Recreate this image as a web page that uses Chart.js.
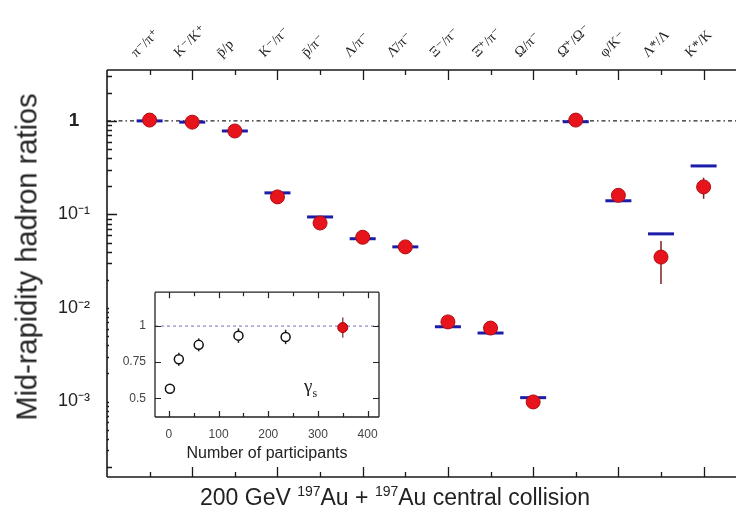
<!DOCTYPE html>
<html>
<head>
<meta charset="utf-8">
<script src="https://cdn.jsdelivr.net/npm/chart.js@4.4.0/dist/chart.umd.min.js"></script>
<style>
html, body { margin: 0; padding: 0; background: #fff; }
#wrap { position: relative; width: 736px; height: 527px; overflow: hidden; }
#main { position: absolute; left: 0; top: 0; }
#inset { position: absolute; left: 109px; top: 276px; background: #fff; }
#ytitle { position: absolute; left: 27px; top: 257px; transform: translate(-50%, -50%) rotate(-90deg);
  font: 29px "Liberation Sans", Arial, sans-serif; color: #222; white-space: nowrap; }
#caption { position: absolute; left: 145px; width: 500px; top: 484px; text-align: center;
  font: 23px "Liberation Sans", Arial, sans-serif; color: #222; white-space: nowrap; }
#caption sup { font-size: 14px; vertical-align: 9px; line-height: 0; }
#gamma { position: absolute; left: 304px; top: 375px; font: 19px "Liberation Serif", serif; color: #222; }
#gamma sub { font-size: 12px; }
</style>
</head>
<body>
<div id="wrap">
  <canvas id="main" width="736" height="527"></canvas>
  <canvas id="inset" width="276" height="190"></canvas>
  <div id="ytitle">Mid-rapidity hadron ratios</div>
  <div id="gamma">γ<sub>s</sub></div>
  <div id="caption">200 GeV <sup>197</sup>Au + <sup>197</sup>Au central collision</div>
</div>
<script>
// main panel
var categories = ['π⁻/π⁺', 'K⁻/K⁺', 'p̄/p', 'K⁻/π⁻', 'p̄/π⁻', 'Λ/π⁻', 'Λ̄/π⁻',
                  'Ξ⁻/π⁻', 'Ξ̄⁺/π⁻', 'Ω/π⁻', 'Ω̄⁺/Ω⁻', 'φ/K⁻', 'Λ*/Λ', 'K*/K'];
var measured    = [1.02, 0.97, 0.78, 0.154, 0.081, 0.057, 0.045, 0.0071, 0.0061, 0.00099, 1.02, 0.16, 0.035, 0.197];
var measuredErr = [0.04, 0.04, 0.05, 0.012, 0.007, 0.005, 0.004, 0.0006, 0.0006, 0.0001, 0.08, 0.02, 0.017, 0.05];
var model       = [1.0, 0.97, 0.78, 0.17, 0.094, 0.055, 0.045, 0.0063, 0.0054, 0.0011, 0.98, 0.14, 0.062, 0.33];
var yTickValues = [1, 0.1, 0.01, 0.001];
var yTickLabels = ['1', '10⁻¹', '10⁻²', '10⁻³'];

// inset: gamma_s vs number of participants
var npart            = [2, 20, 60, 140, 235];
var gammaS           = [0.566, 0.77, 0.87, 0.934, 0.925];
var gammaSErr        = [0.02, 0.045, 0.045, 0.05, 0.05];
var npartCentral     = [350];
var gammaSCentral    = [0.99];
var gammaSCentralErr = [0.07];
var insetXTicks = [0, 100, 200, 300, 400];
var insetYTicks = [0.5, 0.75, 1];

var X_MIN = -1, X_MAX = 13.76, Y_MIN = 1.56e-4, Y_MAX = 3.5;
var sans = '"Liberation Sans", Arial, sans-serif';

// frame lines and inward ticks
var frameTicks = {
    id: 'frameTicks',
    afterDatasetsDraw: function (chart, args, opts) {
        var ctx = chart.ctx, a = chart.chartArea;
        var xs = chart.scales.x, ys = chart.scales.y;
        var sides = opts.sides;
        ctx.save();
        ctx.strokeStyle = opts.color;
        ctx.lineWidth = opts.tickWidth;
        ctx.beginPath();
        opts.xTicks.forEach(function (t) {
            var px = Math.round(xs.getPixelForValue(t.v)) + 0.5;
            if (sides.indexOf('bottom') >= 0) { ctx.moveTo(px, a.bottom); ctx.lineTo(px, a.bottom - t.len); }
            if (sides.indexOf('top') >= 0) { ctx.moveTo(px, a.top); ctx.lineTo(px, a.top + t.len); }
        });
        opts.yTicks.forEach(function (t) {
            var py = Math.round(ys.getPixelForValue(t.v)) + 0.5;
            if (sides.indexOf('left') >= 0) { ctx.moveTo(a.left, py); ctx.lineTo(a.left + t.len, py); }
            if (sides.indexOf('right') >= 0) { ctx.moveTo(a.right, py); ctx.lineTo(a.right - t.len, py); }
        });
        ctx.stroke();
        ctx.lineWidth = opts.lineWidth;
        ctx.beginPath();
        if (sides.indexOf('left') >= 0) { ctx.moveTo(a.left, a.top); ctx.lineTo(a.left, a.bottom); }
        if (sides.indexOf('right') >= 0) { ctx.moveTo(a.right, a.top); ctx.lineTo(a.right, a.bottom); }
        if (sides.indexOf('top') >= 0) { ctx.moveTo(a.left, a.top); ctx.lineTo(a.right, a.top); }
        if (sides.indexOf('bottom') >= 0) { ctx.moveTo(a.left, a.bottom); ctx.lineTo(a.right, a.bottom); }
        ctx.stroke();
        ctx.restore();
    }
};

// vertical error bars, drawn under the markers
var errorBars = {
    id: 'errorBars',
    beforeDatasetsDraw: function (chart) {
        var ctx = chart.ctx, xs = chart.scales.x, ys = chart.scales.y;
        chart.data.datasets.forEach(function (ds) {
            if (!ds.errorColor) return;
            ctx.save();
            ctx.strokeStyle = ds.errorColor;
            ctx.lineWidth = 1.5;
            ds.data.forEach(function (p) {
                var px = xs.getPixelForValue(p.x);
                ctx.beginPath();
                ctx.moveTo(px, ys.getPixelForValue(p.yMin));
                ctx.lineTo(px, ys.getPixelForValue(p.yMax));
                ctx.stroke();
            });
            ctx.restore();
        });
    }
};

var catTicks = function (s) {
    s.ticks = categories.map(function (c, i) { return { value: i }; });
};
var noSidePadding = function (s) { s.paddingLeft = 0; s.paddingRight = 0; };

var mainXTicks = categories.map(function (c, i) { return { v: i, len: i % 2 ? 10 : 5 }; });
var mainYTicks = [];
for (var e = -4; e <= 0; e++) {
    for (var m = 1; m <= 9; m++) {
        var v = m * Math.pow(10, e);
        if (v > Y_MIN && v < Y_MAX) mainYTicks.push({ v: v, len: m === 1 ? 10 : 5 });
    }
}

new Chart(document.getElementById('main'), {
    type: 'scatter',
    data: {
        datasets: [
            {
                type: 'line',
                data: [{ x: X_MIN, y: 1 }, { x: X_MAX, y: 1 }],
                borderColor: '#222',
                borderWidth: 1.4,
                borderDash: [4, 3, 1.5, 3],
                pointRadius: 0,
                order: 3
            },
            {
                label: 'model',
                data: model.map(function (v, i) { return { x: i, y: v }; }),
                pointStyle: 'line',
                pointRadius: 13,
                pointBorderWidth: 3,
                pointBorderColor: '#1c1ca8',
                order: 2
            },
            {
                label: 'measured',
                data: measured.map(function (v, i) {
                    return { x: i, y: v, yMin: v - measuredErr[i], yMax: v + measuredErr[i] };
                }),
                errorColor: '#7a2020',
                pointRadius: 7,
                pointBackgroundColor: '#e8141c',
                pointBorderColor: '#b00c10',
                pointBorderWidth: 1,
                order: 1
            }
        ]
    },
    options: {
        responsive: false,
        animation: false,
        events: [],
        layout: { padding: 0, autoPadding: false },
        plugins: {
            legend: { display: false },
            tooltip: { enabled: false },
            frameTicks: {
                sides: ['left', 'top', 'bottom'],
                color: '#1a1a1a',
                lineWidth: 1.6,
                tickWidth: 1.3,
                xTicks: mainXTicks,
                yTicks: mainYTicks
            }
        },
        scales: {
            x: {
                type: 'linear', position: 'bottom', min: X_MIN, max: X_MAX,
                afterBuildTicks: catTicks,
                ticks: { display: false },
                grid: { drawOnChartArea: false, drawTicks: false },
                border: { display: false },
                afterFit: function (s) { s.height = 50; noSidePadding(s); }
            },
            x2: {
                type: 'linear', position: 'top', min: X_MIN, max: X_MAX,
                afterBuildTicks: catTicks,
                ticks: {
                    autoSkip: false,
                    minRotation: 45, maxRotation: 45,
                    padding: 9,
                    labelOffset: -4,
                    color: '#222',
                    font: { family: '"Liberation Serif", "DejaVu Serif", serif', size: 14 },
                    callback: function (v) { return categories[v]; }
                },
                grid: { drawOnChartArea: false, drawTicks: false },
                border: { display: false },
                afterFit: function (s) { s.height = 70; noSidePadding(s); }
            },
            y: {
                type: 'logarithmic', min: Y_MIN, max: Y_MAX,
                afterBuildTicks: function (s) {
                    s.ticks = yTickValues.map(function (v) { return { value: v }; });
                },
                ticks: {
                    crossAlign: 'center',
                    padding: 17,
                    color: '#222',
                    font: function (c) {
                        return c.tick && c.tick.value === 1
                            ? { family: sans, size: 19, weight: 'bold' }
                            : { family: sans, size: 18 };
                    },
                    callback: function (v) { return yTickLabels[yTickValues.indexOf(v)]; }
                },
                grid: { drawOnChartArea: false, drawTicks: false },
                border: { display: false },
                afterFit: function (s) { s.width = 107; }
            }
        }
    },
    plugins: [errorBars, frameTicks]
});

// inset
var insetMinorX = [];
for (var n = 0; n <= 400; n += 50) insetMinorX.push({ v: n, len: n % 100 ? 4 : 6 });

new Chart(document.getElementById('inset'), {
    type: 'scatter',
    data: {
        datasets: [
            {
                type: 'line',
                data: [{ x: -28, y: 1 }, { x: 423, y: 1 }],
                borderColor: '#a0a0d4',
                borderWidth: 1.5,
                borderDash: [3, 3],
                pointRadius: 0,
                order: 3
            },
            {
                label: 'gamma_s',
                data: npart.map(function (v, i) {
                    return { x: v, y: gammaS[i], yMin: gammaS[i] - gammaSErr[i], yMax: gammaS[i] + gammaSErr[i] };
                }),
                errorColor: '#222',
                pointRadius: 4.5,
                pointBackgroundColor: '#fff',
                pointBorderColor: '#111',
                pointBorderWidth: 1.5,
                order: 2
            },
            {
                label: 'central',
                data: npartCentral.map(function (v, i) {
                    return { x: v, y: gammaSCentral[i], yMin: gammaSCentral[i] - gammaSCentralErr[i], yMax: gammaSCentral[i] + gammaSCentralErr[i] };
                }),
                errorColor: '#8a5050',
                pointRadius: 5,
                pointBackgroundColor: '#e0101a',
                pointBorderColor: '#a00',
                pointBorderWidth: 1,
                order: 1
            }
        ]
    },
    options: {
        responsive: false,
        animation: false,
        events: [],
        layout: { padding: { top: 7, right: 6, left: 0, bottom: 0 }, autoPadding: false },
        plugins: {
            legend: { display: false },
            tooltip: { enabled: false },
            frameTicks: {
                sides: ['left', 'right', 'top', 'bottom'],
                color: '#222',
                lineWidth: 1.3,
                tickWidth: 1.2,
                xTicks: insetMinorX,
                yTicks: insetYTicks.map(function (v) { return { v: v, len: 6 }; })
            }
        },
        scales: {
            x: {
                type: 'linear', min: -28, max: 423,
                afterBuildTicks: function (s) {
                    s.ticks = insetXTicks.map(function (v) { return { value: v }; });
                },
                ticks: { maxRotation: 0, padding: 10, color: '#444', font: { family: sans, size: 12 },
                         callback: function (v) { return String(v); } },
                grid: { drawOnChartArea: false, drawTicks: false },
                border: { display: false },
                title: { display: true, text: 'Number of participants', color: '#222',
                         font: { family: sans, size: 16 }, padding: { top: 0, bottom: 3 } },
                afterFit: function (s) { s.height = 49; noSidePadding(s); }
            },
            y: {
                type: 'linear', min: 0.37, max: 1.235,
                afterBuildTicks: function (s) {
                    s.ticks = insetYTicks.map(function (v) { return { value: v }; });
                },
                ticks: { padding: 9, color: '#444', font: { family: sans, size: 12 },
                         callback: function (v) { return String(v); } },
                grid: { drawOnChartArea: false, drawTicks: false },
                border: { display: false },
                afterFit: function (s) { s.width = 46; }
            }
        }
    },
    plugins: [errorBars, frameTicks]
});
</script>
</body>
</html>
